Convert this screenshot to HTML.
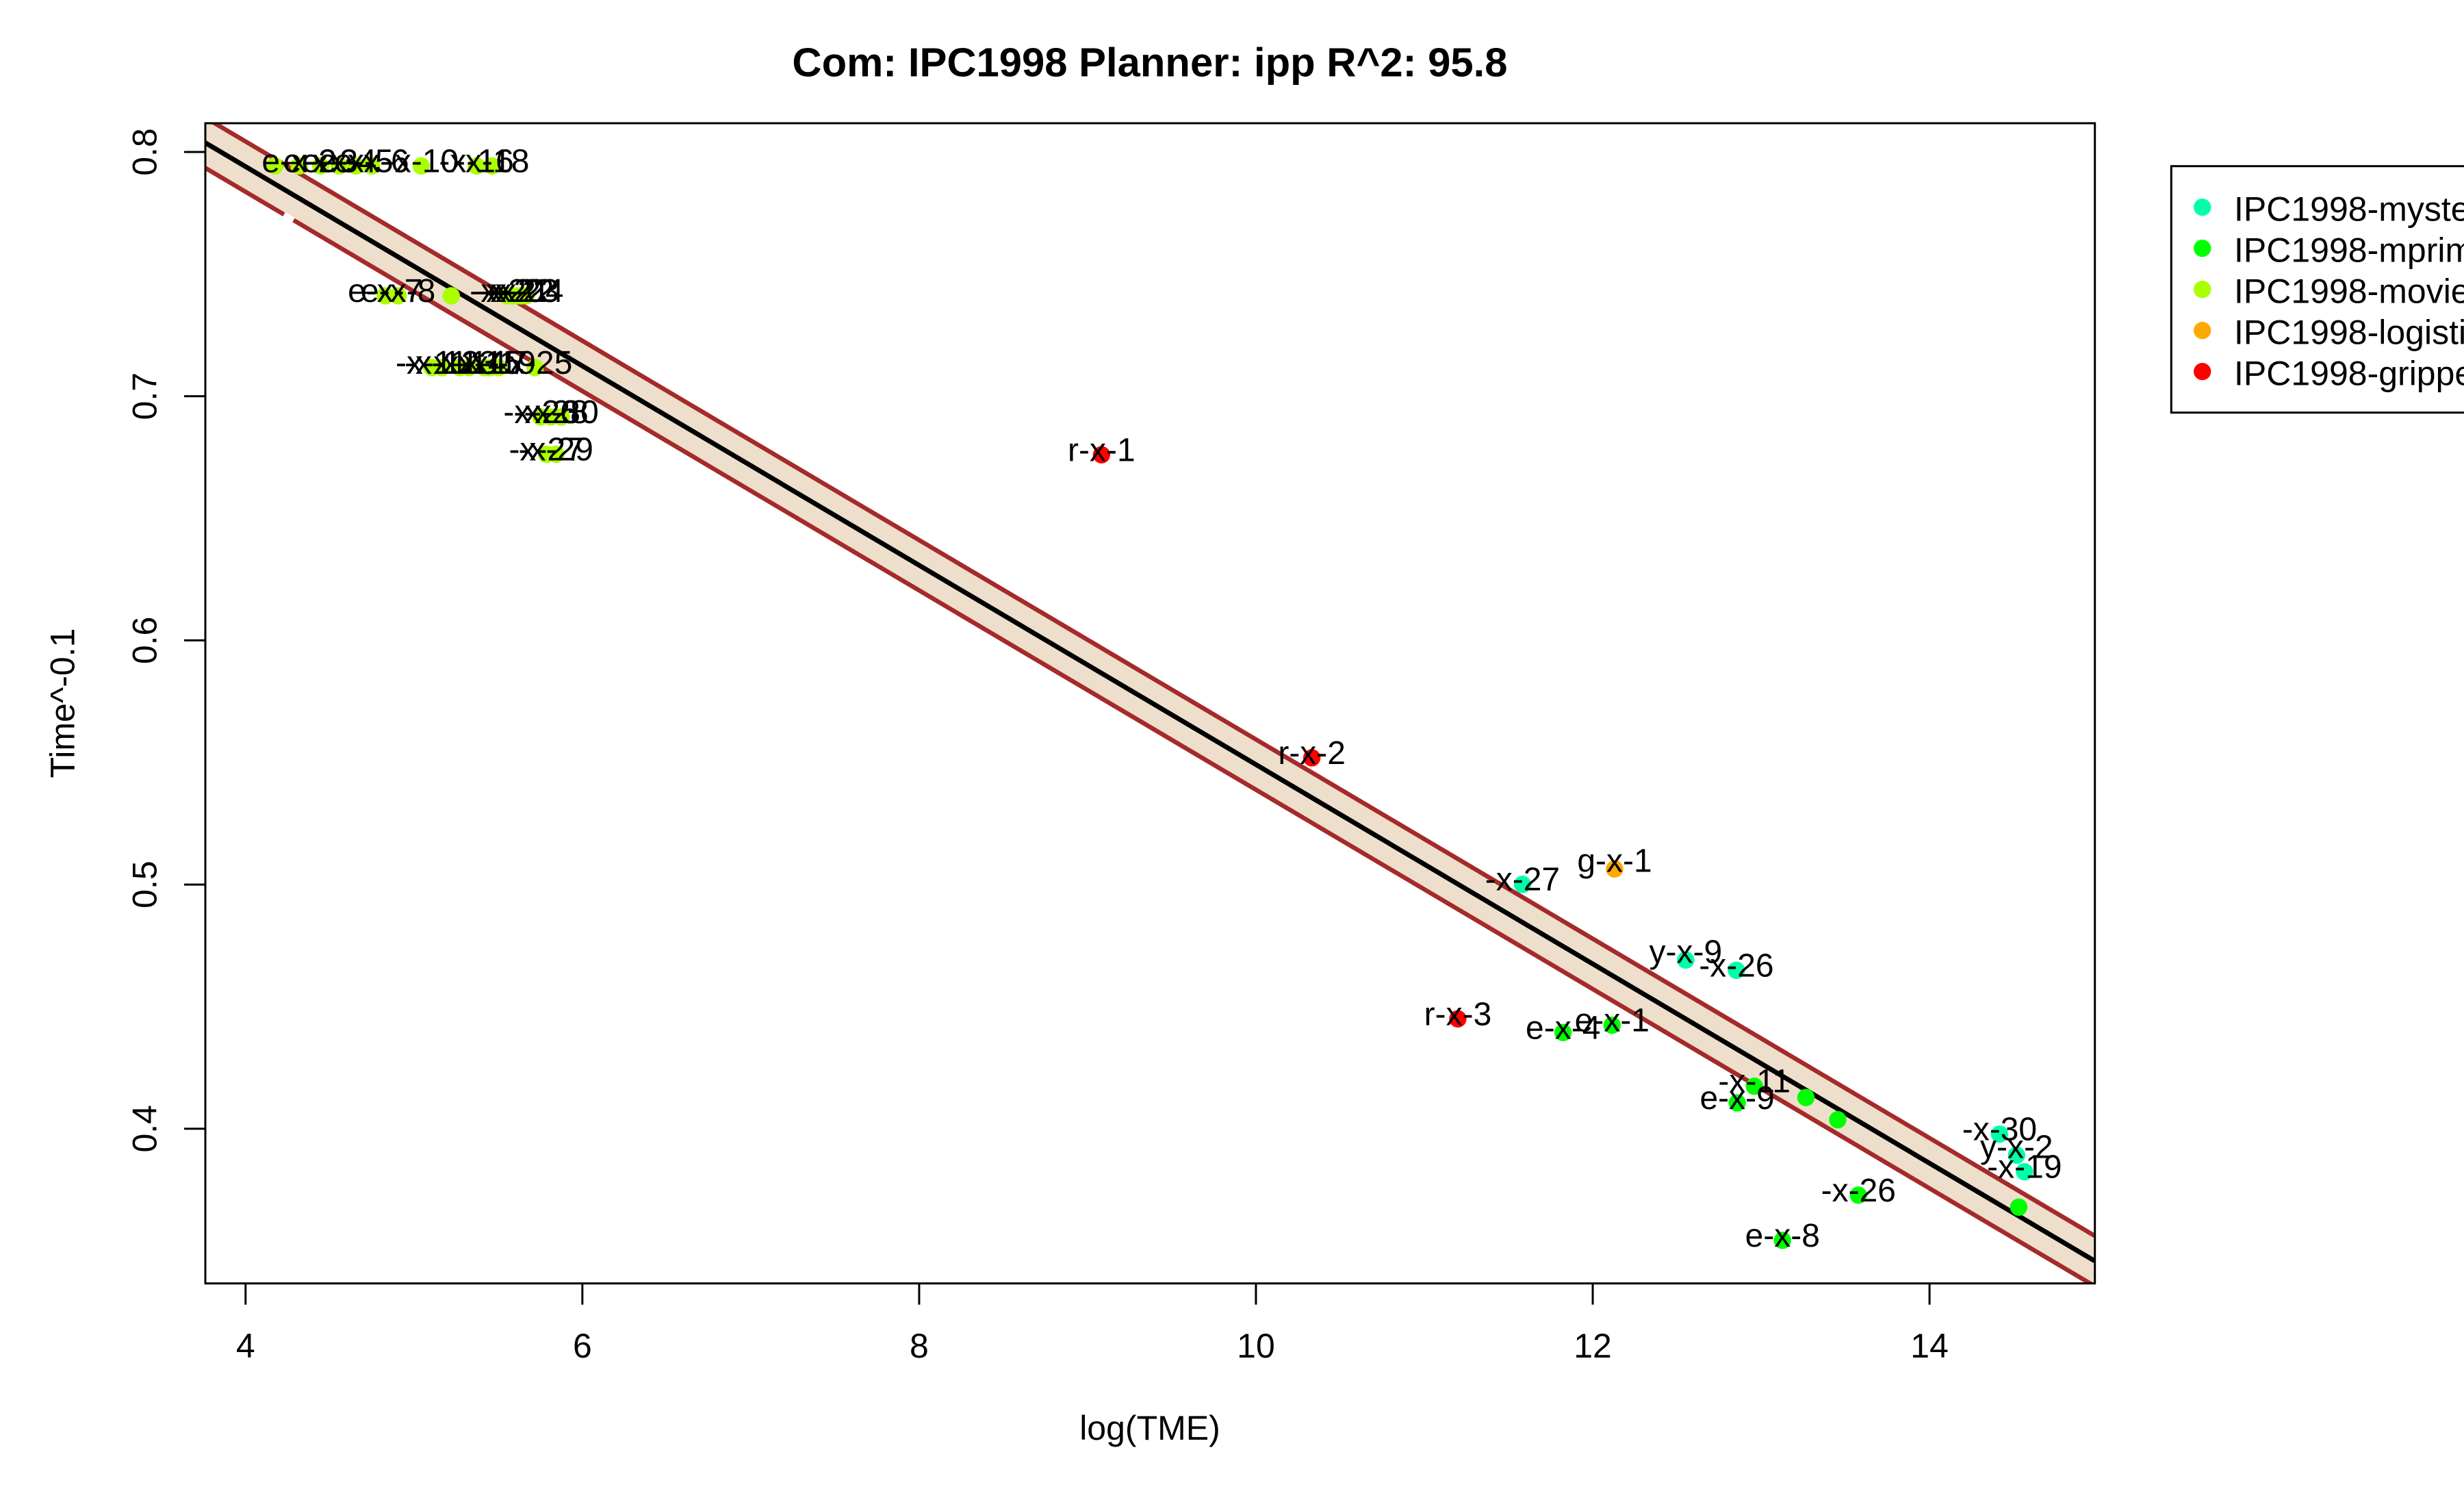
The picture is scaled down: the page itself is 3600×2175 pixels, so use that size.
<!DOCTYPE html>
<html lang="en">
<head>
<meta charset="utf-8">
<title>Com: IPC1998 Planner: ipp R^2: 95.8</title>
<style>
html,body{margin:0;padding:0;background:#fff;width:3600px;height:2175px;overflow:hidden}
svg{display:block;font-family:"Liberation Sans",Arial,sans-serif}
</style>
</head>
<body>
<svg id="chart" xmlns="http://www.w3.org/2000/svg" width="3600" height="2175" viewBox="0 0 3600 2175">
  <defs><clipPath id="plot-clip"><rect x="300" y="180" width="2760.7" height="1694.7"/></clipPath></defs>
  <rect x="0" y="0" width="3600" height="2175" fill="#ffffff"/>
  <text x="1680" y="111.7" text-anchor="middle" font-size="59.8" font-weight="bold">Com: IPC1998 Planner: ipp R^2: 95.8</text>
  <text x="1680" y="2103" text-anchor="middle" font-size="50">log(TME)</text>
  <text transform="translate(108.3 1027) rotate(-90)" text-anchor="middle" font-size="50">Time^-0.1</text>
  <g id="plot-area" clip-path="url(#plot-clip)"></g>
  <g id="point-layer"></g>
  <g id="label-layer"></g>
  <g id="axis-layer"></g>
  <rect x="300" y="180" width="2760.7" height="1694.7" fill="none" stroke="#000" stroke-width="3"/>
  <g font-size="50">
    <rect x="3172.3" y="242.7" width="600" height="360" fill="#fff" stroke="#000" stroke-width="3"/>
    <g><circle cx="3217.7" cy="302.7" r="12.7" fill="#00FFAA"/><text x="3264" y="322.7">IPC1998-mystery</text></g>
    <g><circle cx="3217.7" cy="362.7" r="12.7" fill="#00FF00"/><text x="3264" y="382.7">IPC1998-mprime</text></g>
    <g><circle cx="3217.7" cy="422.7" r="12.7" fill="#AAFF00"/><text x="3264" y="442.7">IPC1998-movie</text></g>
    <g><circle cx="3217.7" cy="482.7" r="12.7" fill="#FFAA00"/><text x="3264" y="502.7">IPC1998-logistics</text></g>
    <g><circle cx="3217.7" cy="542.7" r="12.7" fill="#FF0000"/><text x="3264" y="562.7">IPC1998-gripper</text></g>
  </g>
</svg>
<script>
// ---- chart data ----
const xTicks = [4, 6, 8, 10, 12, 14];
const yTicks = [0.4, 0.5, 0.6, 0.7, 0.8];

const fitX = [3.76, 14.98];
const fitY = [0.8038, 0.3459];
const bandHalfWidth = 0.0103;
const lowerGapX = [4.228, 4.285];

const mysteryX = [11.583, 12.552, 12.853, 14.416, 14.517, 14.564];
const mysteryY = [0.5001, 0.4691, 0.4649, 0.3978, 0.3892, 0.3824];
const mysteryLabels = ['-x-27', 'y-x-9', '-x-26', '-x-30', 'y-x-2', '-x-19'];

const mprimeX = [11.824, 12.115, 12.960, 12.858, 13.266, 13.455, 13.578, 13.127, 14.530];
const mprimeY = [0.4394, 0.4424, 0.4174, 0.4106, 0.4128, 0.4037, 0.3728, 0.3543, 0.3679];
const mprimeLabels = ['e-x-4', 'e-x-1', '-x-11', 'e-x-9', '', '', '-x-26', 'e-x-8', ''];

const movieX = [4.174, 4.318, 4.446, 4.556, 4.655, 4.749, 5.043, 5.371, 5.463,
                4.829, 4.906, 5.221, 5.553, 5.586, 5.610, 5.639, 5.667,
                5.106, 5.166, 5.272, 5.326, 5.417, 5.452, 5.502, 5.719,
                5.753, 5.814, 5.875,
                5.786, 5.843];
const movieY = [0.7943, 0.7943, 0.7943, 0.7943, 0.7943, 0.7943, 0.7943, 0.7943, 0.7943,
                0.7411, 0.7411, 0.7411, 0.7411, 0.7411, 0.7411, 0.7411, 0.7411,
                0.7117, 0.7117, 0.7117, 0.7117, 0.7117, 0.7117, 0.7117, 0.7117,
                0.6915, 0.6915, 0.6915,
                0.6762, 0.6762];
const movieLabels = ['', 'e-x-2', 'e-x-3', 'e-x-4', 'e-x-5', 'e-x-6', '-x-10', '-x-16', '-x-18',
                     'e-x-7', 'e-x-8', '', '-x-20', '-x-21', '-x-22', '-x-23', '-x-24',
                     '-x-11', '-x-12', '-x-13', '-x-14', '-x-15', '-x-17', '-x-19', '-x-25',
                     '-x-26', '-x-28', '-x-30',
                     '-x-27', '-x-29'];

const logisticsX = [12.130];
const logisticsY = [0.5064];
const logisticsLabels = ['g-x-1'];

const gripperX = [9.083, 10.332, 11.199];
const gripperY = [0.6760, 0.5519, 0.4450];
const gripperLabels = ['r-x-1', 'r-x-2', 'r-x-3'];

// ---- axis functions ----
function sx(v) { return 358.8 + (v - 4) * 246.03; }
function sy(v) { return 222 + (0.8 - v) * 3567; }

const NS = 'http://www.w3.org/2000/svg';
function make(tag, attrs, parent) {
  const el = document.createElementNS(NS, tag);
  for (const k in attrs) el.setAttribute(k, attrs[k]);
  parent.appendChild(el);
  return el;
}

const plotArea = document.getElementById('plot-area');
const pointLayer = document.getElementById('point-layer');
const labelLayer = document.getElementById('label-layer');
const axisLayer = document.getElementById('axis-layer');

// ---- band and fit line ----
function fitAt(x) {
  return fitY[0] + (x - fitX[0]) * (fitY[1] - fitY[0]) / (fitX[1] - fitX[0]);
}
const bandPts = [
  [fitX[0], fitY[0] + bandHalfWidth], [fitX[1], fitY[1] + bandHalfWidth],
  [fitX[1], fitY[1] - bandHalfWidth], [fitX[0], fitY[0] - bandHalfWidth]
].map(function (p) { return sx(p[0]) + ',' + sy(p[1]); }).join(' ');

const band = make('polygon', { points: bandPts, fill: '#EEDFCC' }, plotArea);



const upperLine = make('line', { x1: sx(fitX[0]), y1: sy(fitY[0] + bandHalfWidth), x2: sx(fitX[1]), y2: sy(fitY[1] + bandHalfWidth), stroke: '#A52A2A', 'stroke-width': 6.5 }, plotArea);



const lowerLine = make('line', { x1: sx(fitX[0]), y1: sy(fitY[0] - bandHalfWidth), x2: sx(fitX[1]), y2: sy(fitY[1] - bandHalfWidth), stroke: '#A52A2A', 'stroke-width': 6.5 }, plotArea);



const lowerGap = make('line', { x1: sx(lowerGapX[0]), y1: sy(fitAt(lowerGapX[0]) - bandHalfWidth), x2: sx(lowerGapX[1]), y2: sy(fitAt(lowerGapX[1]) - bandHalfWidth), stroke: '#FFFFFF', 'stroke-width': 8 }, plotArea);



const fitLine = make('line', { x1: sx(fitX[0]), y1: sy(fitY[0]), x2: sx(fitX[1]), y2: sy(fitY[1]), stroke: '#000000', 'stroke-width': 7 }, plotArea);



// ---- points and labels ----
function drawSeries(name, color, xs, ys, labels) {
  for (let i = 0; i < xs.length; i++) {
    const dot = make('circle', { cx: sx(xs[i]), cy: sy(ys[i]), r: 12.7, fill: color }, pointLayer);
    
    
    if (labels[i]) {
      const rise = /[gy]/.test(labels[i]) ? 4 : 9;
      const t = make('text', { x: sx(xs[i]), y: sy(ys[i]) + rise, 'text-anchor': 'middle', 'font-size': 48, fill: '#000' }, labelLayer);
      
      
      t.textContent = labels[i];
    }
  }
}
drawSeries('movie', '#AAFF00', movieX, movieY, movieLabels);
drawSeries('mystery', '#00FFAA', mysteryX, mysteryY, mysteryLabels);
drawSeries('mprime', '#00FF00', mprimeX, mprimeY, mprimeLabels);
drawSeries('logistics', '#FFAA00', logisticsX, logisticsY, logisticsLabels);
drawSeries('gripper', '#FF0000', gripperX, gripperY, gripperLabels);

// ---- axes ----
xTicks.forEach(function (v) {
  const tick = make('line', { x1: sx(v), y1: 1874.7, x2: sx(v), y2: 1905.7, stroke: '#000', 'stroke-width': 3 }, axisLayer);
  
  
  const t = make('text', { x: sx(v), y: 1983, 'text-anchor': 'middle', 'font-size': 50 }, axisLayer);
  
  
  t.textContent = String(v);
});
yTicks.forEach(function (v) {
  const tick = make('line', { x1: 269, y1: sy(v), x2: 300, y2: sy(v), stroke: '#000', 'stroke-width': 3 }, axisLayer);
  
  
  const t = make('text', { transform: 'translate(228.3 ' + sy(v) + ') rotate(-90)', 'text-anchor': 'middle', 'font-size': 50 }, axisLayer);
  
  
  t.textContent = v.toFixed(1);
});
</script>
</body>
</html>
